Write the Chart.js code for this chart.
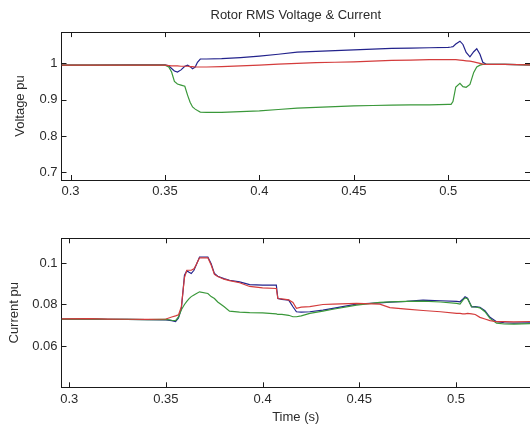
<!DOCTYPE html>
<html>
<head>
<meta charset="utf-8">
<script src="https://cdn.jsdelivr.net/npm/chart.js@4.4.1/dist/chart.umd.min.js"></script>
<style>
  html, body { margin: 0; padding: 0; background: #fff; }
  body { width: 530px; height: 426px; overflow: hidden; position: relative; }
  .wrap { position: absolute; left: 0; width: 530px; }
</style>
</head>
<body>
<div class="wrap" style="top:0;height:210px"><canvas id="cV"></canvas></div>
<div class="wrap" style="top:210px;height:216px"><canvas id="cI"></canvas></div>
<script>
// ---------- data ----------
const voltTime  = [0.2952,0.31,0.33,0.35,0.352,0.3535,0.355,0.3566,0.3585,0.3605,0.362,0.3633,0.3646,0.366,0.3672,0.3687,0.372,0.38,0.39,0.40,0.41,0.42,0.43,0.44,0.45,0.46,0.47,0.48,0.49,0.50,0.5015,0.5025,0.504,0.5062,0.5078,0.5095,0.5115,0.5135,0.5151,0.5168,0.5183,0.52,0.53,0.5433];
const voltBlue  = [0.995,0.995,0.996,0.996,0.993,0.986,0.979,0.976,0.982,0.992,0.995,0.991,0.985,0.990,1.003,1.012,1.012,1.013,1.016,1.020,1.025,1.031,1.033,1.035,1.037,1.039,1.041,1.042,1.043,1.044,1.045,1.046,1.053,1.061,1.052,1.030,1.018,1.032,1.040,1.025,1.003,0.998,0.997,0.996];
const voltRed   = [0.995,0.995,0.995,0.995,0.994,0.993,0.993,0.993,0.992,0.992,0.992,0.991,0.991,0.990,0.990,0.990,0.990,0.991,0.993,0.995,0.998,1.000,1.002,1.003,1.004,1.006,1.008,1.009,1.010,1.010,1.010,1.010,1.010,1.009,1.008,1.007,1.006,1.004,1.002,1.000,0.998,0.997,0.997,0.996];
const voltGreen = [0.995,0.995,0.995,0.995,0.990,0.976,0.950,0.943,0.940,0.937,0.912,0.893,0.880,0.874,0.870,0.866,0.865,0.865,0.867,0.869,0.873,0.877,0.879,0.881,0.883,0.884,0.885,0.886,0.886,0.887,0.887,0.895,0.935,0.945,0.936,0.934,0.942,0.975,0.990,0.995,0.997,0.997,0.997,0.996];

const currTime  = [0.296,0.31,0.32,0.33,0.34,0.35,0.353,0.355,0.3565,0.358,0.3596,0.3608,0.362,0.3631,0.3645,0.3656,0.3674,0.3717,0.3734,0.3751,0.3768,0.38,0.3829,0.3881,0.3933,0.40,0.4071,0.4079,0.41,0.4135,0.4157,0.4175,0.42,0.4244,0.4312,0.4364,0.4486,0.4606,0.4658,0.4744,0.483,0.492,0.5004,0.5021,0.5035,0.5047,0.506,0.5081,0.51,0.5124,0.515,0.5176,0.521,0.525,0.53,0.5383];
const currBlue  = [0.0730,0.0731,0.0729,0.0728,0.0727,0.0726,0.0722,0.0718,0.0735,0.0781,0.0941,0.0962,0.0955,0.0949,0.0965,0.0989,0.1029,0.1029,0.0997,0.0949,0.0936,0.0925,0.0917,0.0909,0.0896,0.0893,0.0893,0.0829,0.0825,0.0821,0.0789,0.0765,0.0763,0.0765,0.0773,0.0781,0.0802,0.0808,0.0811,0.0815,0.0821,0.0818,0.0815,0.0813,0.0825,0.0837,0.0830,0.0789,0.0790,0.0786,0.0770,0.0738,0.0717,0.0712,0.0710,0.0712];
const currRed   = [0.0731,0.0732,0.0730,0.0729,0.0728,0.0730,0.0740,0.0745,0.0750,0.0790,0.0930,0.0965,0.0965,0.0965,0.0972,0.0990,0.1025,0.1025,0.0990,0.0945,0.0935,0.0922,0.0915,0.0905,0.0887,0.0880,0.0877,0.0829,0.0827,0.0822,0.0810,0.0782,0.0787,0.0790,0.0800,0.0802,0.0805,0.0802,0.0785,0.0778,0.0771,0.0765,0.0757,0.0757,0.0755,0.0755,0.0757,0.0755,0.0752,0.0738,0.0730,0.0722,0.0717,0.0717,0.0716,0.0718];
const currGreen = [0.0730,0.0731,0.0729,0.0728,0.0727,0.0728,0.0724,0.0722,0.0740,0.0775,0.0800,0.0815,0.0828,0.0838,0.0846,0.0852,0.0861,0.0853,0.0838,0.0829,0.0812,0.0790,0.0768,0.0763,0.0761,0.0760,0.0755,0.0752,0.0752,0.0748,0.0741,0.0741,0.0745,0.0757,0.0768,0.0777,0.0797,0.0810,0.0813,0.0815,0.0816,0.0812,0.0805,0.0802,0.0820,0.0832,0.0828,0.0789,0.0788,0.0784,0.0765,0.0733,0.0710,0.0706,0.0705,0.0708];

const timeTicks      = [0.3, 0.35, 0.4, 0.45, 0.5];
const timeTickLabels = ['0.3', '0.35', '0.4', '0.45', '0.5'];
const voltTicks      = [0.7, 0.8, 0.9, 1];
const voltTickLabels = ['0.7', '0.8', '0.9', '1'];
const currTicks      = [0.06, 0.08, 0.1];
const currTickLabels = ['0.06', '0.08', '0.1'];

// ---------- styling ----------
const FONT = '"Liberation Sans", Arial, sans-serif';
const TXT = '#2b2b2b';
const BLUE = '#23238c', RED = '#d43c3c', GREEN = '#3a983a';

function pts(t, v) { return t.map((x, i) => ({ x: x, y: v[i] })); }

const boxTicks = {
  id: 'boxTicks',
  afterDraw(chart) {
    const { ctx, chartArea: { left, right, top, bottom }, scales: { x, y } } = chart;
    ctx.save();
    ctx.strokeStyle = '#1a1a1a';
    ctx.lineWidth = 1;
    ctx.beginPath();
    ctx.moveTo(left, Math.round(top) + 0.5);
    ctx.lineTo(right, Math.round(top) + 0.5);
    x.ticks.forEach(t => {
      const px = Math.round(x.getPixelForValue(t.value)) + 0.5;
      ctx.moveTo(px, bottom); ctx.lineTo(px, bottom - 5);
      ctx.moveTo(px, top); ctx.lineTo(px, top + 5);
    });
    y.ticks.forEach(t => {
      const py = Math.round(y.getPixelForValue(t.value)) + 0.5;
      ctx.moveTo(left, py); ctx.lineTo(left + 5, py);
      ctx.moveTo(right, py); ctx.lineTo(right - 5, py);
    });
    ctx.stroke();
    ctx.restore();
  }
};

function makeChart(id, cfg) {
  return new Chart(document.getElementById(id), {
    type: 'line',
    data: {
      datasets: [
        { data: pts(cfg.t, cfg.blue),  borderColor: BLUE,  order: 3 },
        { data: pts(cfg.t, cfg.green), borderColor: GREEN, order: 2 },
        { data: pts(cfg.t, cfg.red),   borderColor: RED,   order: 1 }
      ]
    },
    options: {
      responsive: true,
      maintainAspectRatio: false,
      animation: false,
      events: [],
      layout: { padding: { top: cfg.padTop, left: 0, right: 0, bottom: 0 } },
      elements: {
        point: { radius: 0 },
        line: { borderWidth: 1.2, tension: 0, fill: false }
      },
      plugins: {
        legend: { display: false },
        tooltip: { enabled: false },
        title: cfg.title ? {
          display: true, text: cfg.title, fullSize: false,
          color: TXT, font: { family: FONT, size: 13, weight: 'normal' },
          padding: { top: 8, bottom: 8.5 }
        } : { display: false }
      },
      scales: {
        x: {
          type: 'linear', min: cfg.xmin, max: cfg.xmax,
          afterBuildTicks: s => { s.ticks = timeTicks.map(v => ({ value: v })); },
          afterFit: s => { s.height = cfg.xHeight; },
          grid: { display: false, drawTicks: false },
          border: { display: true, color: '#1a1a1a', width: 1 },
          ticks: {
            padding: 4, color: TXT, font: { family: FONT, size: 13 },
            maxRotation: 0, autoSkip: false,
            callback: (v, i) => timeTickLabels[i]
          },
          title: cfg.xTitle ? {
            display: true, text: cfg.xTitle, color: TXT,
            font: { family: FONT, size: 13 }, padding: { top: 0, bottom: 1 }
          } : { display: false }
        },
        y: {
          type: 'linear', min: cfg.ymin, max: cfg.ymax,
          afterBuildTicks: s => { s.ticks = cfg.yTicks.map(v => ({ value: v })); },
          afterFit: s => { s.width = 61.5; },
          grid: { display: false, drawTicks: false },
          border: { display: true, color: '#1a1a1a', width: 1 },
          ticks: {
            padding: 4, color: TXT, font: { family: FONT, size: 13 },
            autoSkip: false,
            callback: (v, i) => cfg.yLabels[i]
          },
          title: {
            display: true, text: cfg.yTitle, color: TXT,
            font: { family: FONT, size: 13 }, padding: { top: cfg.yTitlePad, bottom: 0 }
          }
        }
      }
    },
    plugins: [boxTicks]
  });
}

makeChart('cV', {
  t: voltTime, blue: voltBlue, red: voltRed, green: voltGreen,
  title: 'Rotor RMS Voltage & Current', padTop: 0,
  xmin: 0.2952, xmax: 0.5433, xHeight: 30,
  ymin: 0.679, ymax: 1.086, yTicks: voltTicks, yLabels: voltTickLabels,
  yTitle: 'Voltage pu', yTitlePad: 13
});

makeChart('cI', {
  t: currTime, blue: currBlue, red: currRed, green: currGreen,
  title: null, padTop: 28.3,
  xmin: 0.296, xmax: 0.5383, xHeight: 38.7, xTitle: 'Time (s)',
  ymin: 0.0401, ymax: 0.1119, yTicks: currTicks, yLabels: currTickLabels,
  yTitle: 'Current pu', yTitlePad: 7
});
</script>
</body>
</html>
